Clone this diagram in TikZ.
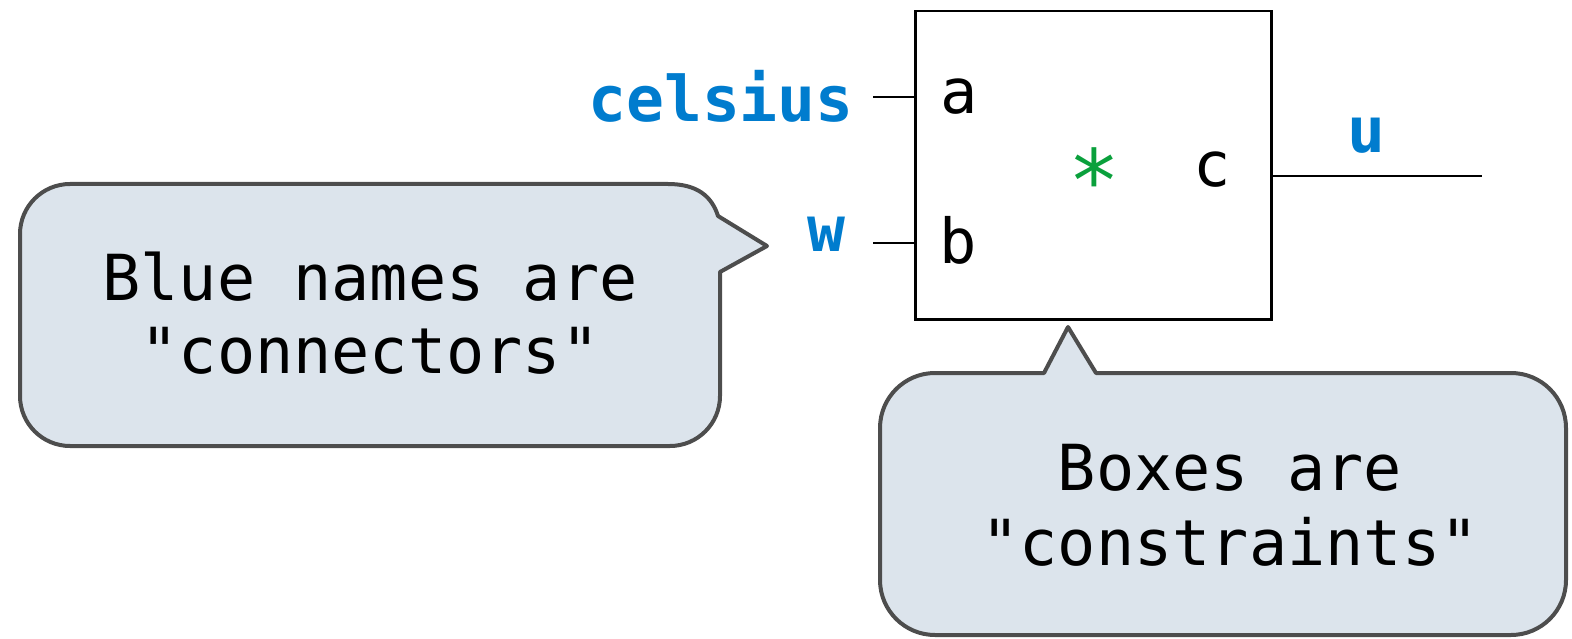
\documentclass[tikz,border=0pt]{standalone}
\usepackage{fontspec}
\setmonofont{DejaVu Sans Mono}
\renewcommand*{\familydefault}{\ttdefault}
\definecolor{connblue}{RGB}{0,124,206}
\definecolor{opgreen}{RGB}{10,160,60}
\definecolor{bubblefill}{RGB}{220,228,236}
\definecolor{bubbleline}{RGB}{77,77,77}
\tikzset{
  conn/.style={font=\ttfamily\bfseries\fontsize{63}{70}\selectfont, text=connblue, inner sep=0pt, anchor=base},
  port/.style={font=\ttfamily\fontsize{62}{70}\selectfont, inner sep=0pt, anchor=base},
  wire/.style={line width=2pt, black},
  bubble/.style={fill=bubblefill, draw=bubbleline, line width=4pt, line join=round},
  bubbletext/.style={font=\ttfamily\fontsize{63.5}{72}\selectfont, align=center, inner sep=0pt, anchor=base}
}
\begin{document}
\begin{tikzpicture}[x=1pt,y=-1pt]
\useasboundingbox (0,0) rectangle (1572,639);
% constraint box
\node[draw, line width=2.5pt, minimum width=356pt, minimum height=308pt, anchor=north west, inner sep=0pt] (box) at (914,10) {};
\node[port] (a) at (959,114) {a};
\node[port] (b) at (958,263) {b};
\node[port] (c) at (1212,187) {c};
\node[font=\ttfamily\fontsize{86}{86}\selectfont, text=opgreen, inner sep=0pt, anchor=base] (op) at (1094,212) {*};
% connectors
\node[conn] (celsius) at (721,122) {celsius};
\node[conn] (w) at (826,252) {w};
\node[conn] (u) at (1366,153) {u};
\coordinate (cw) at (873,97);
\coordinate (ww) at (873,243);
\coordinate (uw) at (1482,176);
\draw[wire] (cw) -- (box.west |- cw);
\draw[wire] (ww) -- (box.west |- ww);
\draw[wire] (box.east |- uw) -- (uw);
% left bubble
\path[bubble] (370,446) -- (70,446) .. controls (42.4,446) and (20,423.6) .. (20,396)
  -- (20,234) .. controls (20,206.4) and (42.4,184) .. (70,184)
  -- (668,184) .. controls (698,184) and (712,197) .. (718,216)
  -- (767,246) -- (720,272)
  -- (720,396) .. controls (720,423.6) and (697.6,446) .. (670,446) -- cycle;
\node[bubbletext] (t1) at (370,300) {Blue names are};
\node[bubbletext] (t2) at (370,373) {"connectors"};
% right bubble
\path[bubble] (1300,373) -- (1511,373) .. controls (1541.4,373) and (1566,397.6) .. (1566,428)
  -- (1566,580) .. controls (1566,610.4) and (1541.4,635) .. (1511,635)
  -- (935,635) .. controls (904.6,635) and (880,610.4) .. (880,580)
  -- (880,428) .. controls (880,397.6) and (904.6,373) .. (935,373)
  -- (1044,373) -- (1068,327) -- (1096,373) -- cycle;
\node[bubbletext] (t3) at (1230,490) {Boxes are};
\node[bubbletext] (t4) at (1230,565) {"constraints"};
\end{tikzpicture}
\end{document}
